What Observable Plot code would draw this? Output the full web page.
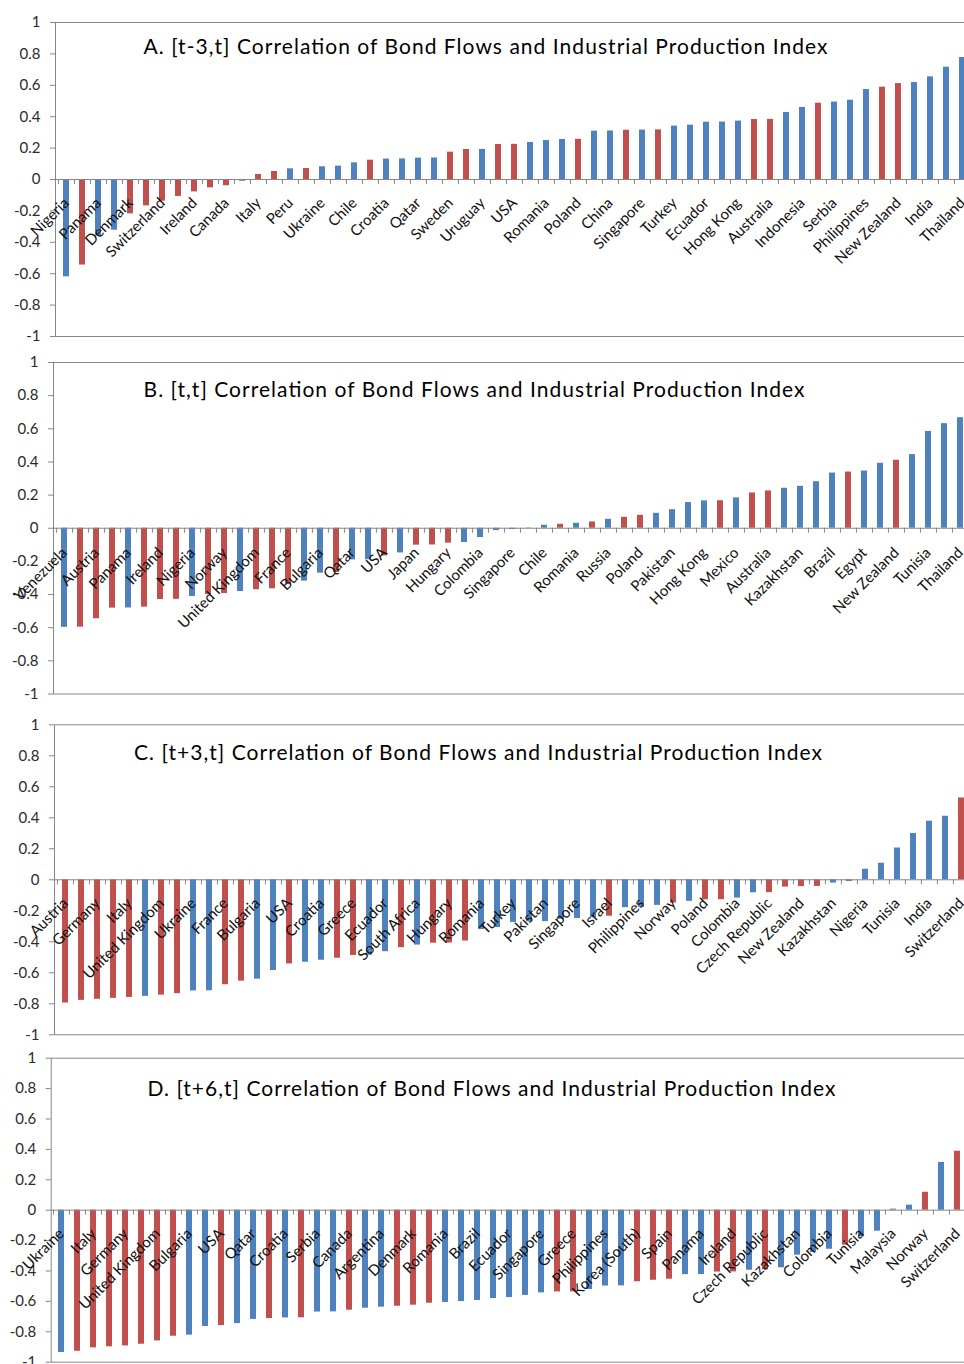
<!DOCTYPE html>
<html>
<head>
<meta charset="utf-8">
<script src="https://cdn.jsdelivr.net/npm/d3@7"></script>
<script src="https://cdn.jsdelivr.net/npm/@observablehq/plot@0.6"></script>
<style>
  html, body { margin: 0; padding: 0; background: #fff; overflow: hidden; }
  .panel { width: 964px; overflow: hidden; position: relative; }
  .panel svg { display: block; max-width: none !important; }
</style>
</head>
<body>
<div id="chart"></div>
<script>
// ---------- data ----------
const yTicks = [1, 0.8, 0.6, 0.4, 0.2, 0, -0.2, -0.4, -0.6, -0.8, -1];

const titleA = "A. [t-3,t] Correlation of Bond Flows and Industrial Production Index";
const labelsA = ["Nigeria","Panama","Denmark","Switzerland","Ireland","Canada","Italy","Peru","Ukraine","Chile","Croatia","Qatar","Sweden","Uruguay","USA","Romania","Poland","China","Singapore","Turkey","Ecuador","Hong Kong","Australia","Indonesia","Serbia","Philippines","New Zealand","India","Thailand"];
const valuesA = [-0.62,-0.545,-0.361,-0.323,-0.219,-0.168,-0.138,-0.108,-0.079,-0.053,-0.040,-0.011,0.032,0.051,0.068,0.070,0.081,0.085,0.106,0.123,0.130,0.131,0.136,0.137,0.174,0.191,0.192,0.223,0.224,0.236,0.248,0.255,0.256,0.308,0.309,0.314,0.315,0.316,0.340,0.346,0.365,0.366,0.372,0.382,0.383,0.427,0.459,0.486,0.493,0.505,0.573,0.588,0.611,0.618,0.654,0.715,0.777];
const groupsA = "BRBBRRRRRRRRRRBRBBBRBBBBRRBRRBBBRBBRBRBBBBBRRBBRBBBRRBBBB".split("");

const titleB = "B. [t,t] Correlation of Bond Flows and Industrial Production Index";
const labelsB = ["Venezuela","Austria","Panama","Ireland","Nigeria","Norway","United Kingdom","France","Bulgaria","Qatar","USA","Japan","Hungary","Colombia","Singapore","Chile","Romania","Russia","Poland","Pakistan","Hong Kong","Mexico","Australia","Kazakhstan","Brazil","Egypt","New Zealand","Tunisia","Thailand"];
const valuesB = [-0.598,-0.597,-0.546,-0.482,-0.481,-0.476,-0.430,-0.429,-0.412,-0.400,-0.394,-0.382,-0.371,-0.365,-0.337,-0.319,-0.271,-0.267,-0.191,-0.190,-0.167,-0.149,-0.102,-0.101,-0.090,-0.086,-0.056,-0.014,-0.008,0.002,0.018,0.024,0.030,0.038,0.054,0.066,0.078,0.090,0.112,0.155,0.165,0.166,0.183,0.213,0.225,0.241,0.253,0.281,0.333,0.339,0.345,0.392,0.410,0.444,0.584,0.631,0.667];
const groupsB = "BRRRBRRRBRRBRRRBBRBBRBRRRBBBBBBRBRBRRBBBBRBRRBBBBRBBRBBBB".split("");

const titleC = "C. [t+3,t] Correlation of Bond Flows and Industrial Production Index";
const labelsC = ["Austria","Germany","Italy","United Kingdom","Ukraine","France","Bulgaria","USA","Croatia","Greece","Ecuador","South Africa","Hungary","Romania","Turkey","Pakistan","Singapore","Israel","Philippines","Norway","Poland","Colombia","Czech Republic","New Zealand","Kazakhstan","Nigeria","Tunisia","India","Switzerland"];
const valuesC = [-0.795,-0.778,-0.771,-0.765,-0.759,-0.752,-0.744,-0.735,-0.717,-0.716,-0.677,-0.654,-0.641,-0.585,-0.543,-0.532,-0.519,-0.506,-0.488,-0.487,-0.464,-0.438,-0.421,-0.409,-0.408,-0.395,-0.321,-0.308,-0.275,-0.272,-0.270,-0.255,-0.250,-0.245,-0.235,-0.180,-0.178,-0.165,-0.150,-0.139,-0.129,-0.128,-0.118,-0.084,-0.083,-0.047,-0.044,-0.043,-0.021,-0.011,0.068,0.107,0.205,0.299,0.378,0.410,0.528];
const groupsC = "RRRRRBRRBBRRBBRBBRRBBRBRRRBBBBBBBBRBBBRBRRBBRRRRBBBBBBBBR".split("");

const titleD = "D. [t+6,t] Correlation of Bond Flows and Industrial Production Index";
const labelsD = ["Ukraine","Italy","Germany","United Kingdom","Bulgaria","USA","Qatar","Croatia","Serbia","Canada","Argentina","Denmark","Romania","Brazil","Ecuador","Singapore","Greece","Philippines","Korea (South)","Spain","Panama","Ireland","Czech Republic","Kazakhstan","Colombia","Tunisia","Malaysia","Norway","Switzerland"];
const valuesD = [-0.936,-0.928,-0.906,-0.899,-0.893,-0.882,-0.860,-0.829,-0.822,-0.765,-0.759,-0.746,-0.719,-0.713,-0.709,-0.708,-0.670,-0.669,-0.658,-0.645,-0.638,-0.632,-0.625,-0.612,-0.607,-0.601,-0.594,-0.581,-0.575,-0.561,-0.544,-0.538,-0.537,-0.522,-0.499,-0.498,-0.471,-0.461,-0.454,-0.424,-0.423,-0.407,-0.406,-0.395,-0.392,-0.379,-0.296,-0.278,-0.257,-0.230,-0.175,-0.138,0.007,0.033,0.118,0.314,0.388];
const groupsD = "BRRRRRRRBBRBBRBRBBRBBRRRBBBBBBBRRBBBRRRBBRRBRBBBBRBBBBRBR".split("");

// ---------- drawing ----------
const BLUE = "#4F81BD", RED = "#C0504D", GRID = "#868686";
const STEP = 16.1;

function panel(o) {
  const n = o.values.length;
  const data = o.values.map((v, i) => ({i, v, g: o.groups[i]}));
  const width = o.marginLeft + n * STEP + 2;
  const frameH = o.height - o.marginTop - o.marginBottom;
  const tickLen = 5 / (frameH / 2);
  const svg = Plot.plot({
    width, height: o.height,
    marginLeft: o.marginLeft, marginRight: 2, marginTop: o.marginTop, marginBottom: o.marginBottom,
    style: {fontFamily: "Lato, 'Open Sans', sans-serif", fontSize: "15px", color: "#333", background: "white", maxWidth: "none", overflow: "visible"},
    x: {type: "band", domain: d3.range(n), paddingInner: 0.61, paddingOuter: 0.305, axis: null},
    y: {domain: [-1, 1], axis: null},
    color: {domain: ["B", "R"], range: [BLUE, RED]},
    marks: [
      Plot.frame({stroke: GRID}),
      Plot.axisY({ticks: yTicks, tickFormat: d => String(d), tickSize: 5, tickPadding: 10, stroke: GRID, fill: "#2b2b2b", fontSize: 15, label: null}),
      Plot.barY(data, {x: "i", y: "v", fill: "g"}),
      Plot.ruleY([0], {stroke: GRID}),
      Plot.ruleX(d3.range(n), {x: d => d, y1: 0, y2: -tickLen, dx: -STEP / 2, stroke: GRID}),
      Plot.text(o.labels, {x: (d, k) => 2 * k, y: 0, text: d => d, rotate: -45, textAnchor: "end", lineAnchor: "middle", dy: o.labelDy, fontSize: 15, fill: "#111"}),
      Plot.text([o.title], {frameAnchor: "top-left", dx: o.titleX - o.marginLeft, dy: o.titleY - o.marginTop, text: d => d, textAnchor: "middle", lineAnchor: "middle", fontSize: 21, fill: "#000"})
    ]
  });
  // match the title's drawn width to the original
  svg.querySelectorAll("text").forEach(t => {
    if (t.textContent === o.title) {
      t.setAttribute("textLength", o.titleW);
      t.setAttribute("lengthAdjust", "spacing");
    }
  });
  return svg;
}

const specs = [
  {title: titleA, labels: labelsA, values: valuesA, groups: groupsA, height: 350, marginTop: 22, marginBottom: 14, marginLeft: 55, titleX: 485, titleY: 46.5, titleW: 684, labelDy: 21},
  {title: titleB, labels: labelsB, values: valuesB, groups: groupsB, height: 360, marginTop: 12, marginBottom: 16.5, marginLeft: 53, titleX: 473.5, titleY: 40, titleW: 661, labelDy: 22},
  {title: titleC, labels: labelsC, values: valuesC, groups: groupsC, height: 332, marginTop: 14.3, marginBottom: 7.7, marginLeft: 54, titleX: 477.5, titleY: 42.5, titleW: 688, labelDy: 21},
  {title: titleD, labels: labelsD, values: valuesD, groups: groupsD, height: 322, marginTop: 15.7, marginBottom: 2.3, marginLeft: 50.7, titleX: 491, titleY: 46.3, titleW: 688, labelDy: 21}
];

const root = document.getElementById("chart");
for (const s of specs) {
  const div = document.createElement("div");
  div.className = "panel";
  div.style.height = s.height + "px";
  div.appendChild(panel(s));
  root.appendChild(div);
}
</script>
</body>
</html>
